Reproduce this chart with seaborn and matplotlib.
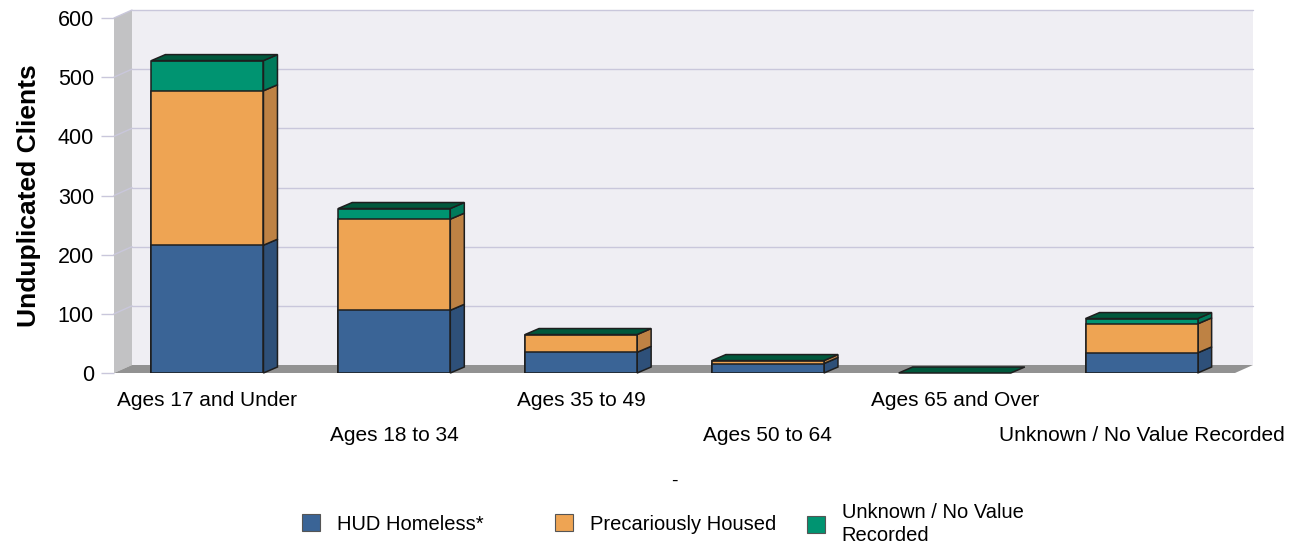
import matplotlib
matplotlib.use('Agg')
from matplotlib import pyplot as plt
from matplotlib.patches import Polygon, Patch
import seaborn as sns
import pandas as pd

# chart data
categories = ['Ages 17 and Under', 'Ages 18 to 34', 'Ages 35 to 49',
              'Ages 50 to 64', 'Ages 65 and Over', 'Unknown / No Value Recorded']
hud_homeless = [216, 106, 35, 16, 0, 34]
precariously_housed = [261, 154, 30, 5, 0, 49]
unknown_recorded = [51, 18, 0, 0, 0, 9]
series_names = ['HUD Homeless*', 'Precariously Housed', 'Unknown / No Value\nRecorded']
y_ticks = [0, 100, 200, 300, 400, 500, 600]

# colours
front_colors = ['#3a6496', '#eea453', '#009471']
side_colors = ['#2e5079', '#be8244', '#007a5b']
top_color = '#00583c'
edge = '#1e1e1e'
grid_color = '#c9c7db'

df = pd.DataFrame({'category': categories, 'hud': hud_homeless,
                   'prec': precariously_housed, 'unk': unknown_recorded})
df['lvl1'] = df.hud
df['lvl2'] = df.lvl1 + df.prec
df['lvl3'] = df.lvl2 + df.unk

sns.set_theme(style='white')
plt.rcParams['font.family'] = ['Liberation Sans', 'DejaVu Sans']
plt.rcParams['text.color'] = 'black'
plt.rcParams['axes.labelcolor'] = 'black'

fig = plt.figure(figsize=(12.95, 5.45), dpi=100)
ax = fig.add_axes([114 / 1295, 172 / 545, 1121 / 1295, 355 / 545])

# depth of the fake 3d, in data units
px_x = 1121 / 6
px_y = 355 / 600
wdx, wdy = 18 / px_x, 8 / px_y
bdx, bdy = 14 / px_x, 6 / px_y

# back wall, left wall and floor
ax.add_patch(Polygon([(-0.5 + wdx, wdy), (5.5 + wdx, wdy), (5.5 + wdx, 600 + wdy), (-0.5 + wdx, 600 + wdy)],
                     closed=True, fc='#efeef3', ec='none', clip_on=False, zorder=0))
for t in y_ticks[1:]:
    ax.plot([-0.5 + wdx, 5.5 + wdx], [t + wdy, t + wdy], color=grid_color, lw=1, clip_on=False, zorder=0.5)
ax.add_patch(Polygon([(-0.5, 0), (-0.5 + wdx, wdy), (-0.5 + wdx, 600 + wdy), (-0.5, 600)],
                     closed=True, fc='#c2c2c4', ec='none', clip_on=False, zorder=1))
for t in y_ticks[1:]:
    ax.plot([-0.5, -0.5 + wdx], [t, t + wdy], color=grid_color, lw=1, clip_on=False, zorder=1.2)
ax.add_patch(Polygon([(-0.5, 0), (5.5, 0), (5.5 + wdx, wdy), (-0.5 + wdx, wdy)],
                     closed=True, fc='#929292', ec='none', clip_on=False, zorder=1))

# front faces: stacked by drawing cumulative totals over each other
for col, c in zip(['lvl3', 'lvl2', 'lvl1'], front_colors[::-1]):
    sns.barplot(data=df, x='category', y=col, color=c, width=0.6, saturation=1,
                edgecolor=edge, linewidth=1.1, errorbar=None, ax=ax, zorder=3)

# side faces and top caps
for i, row in df.iterrows():
    x1 = i + 0.3
    levels = [0, row.lvl1, row.lvl2, row.lvl3]
    for k in range(3):
        b, t = levels[k], levels[k + 1]
        if t > b:
            ax.add_patch(Polygon([(x1, b), (x1 + bdx, b + bdy), (x1 + bdx, t + bdy), (x1, t)],
                                 closed=True, fc=side_colors[k], ec=edge, lw=1.1, zorder=2.5, clip_on=False))
    top = levels[3]
    ax.add_patch(Polygon([(x1 - 0.6, top), (x1, top), (x1 + bdx, top + bdy), (x1 - 0.6 + bdx, top + bdy)],
                         closed=True, fc=top_color, ec=edge, lw=1.1, zorder=3.5, clip_on=False))

ax.set_xlim(-0.5, 5.5)
ax.set_ylim(0, 600)
for s in ax.spines.values():
    s.set_visible(False)
ax.patch.set_visible(False)
ax.grid(False)

ax.set_yticks(y_ticks)
ax.tick_params(axis='y', left=True, length=9.5, width=1, color=grid_color, pad=5, labelsize=15.5, labelcolor='black')
ax.set_xticks(range(len(categories)))
ax.set_xticklabels(categories, fontsize=15, color='black')
ax.tick_params(axis='x', bottom=False, length=0, pad=13)
for lbl in ax.get_xticklabels()[1::2]:
    lbl.set_y(-35 / 355)

ax.set_xlabel('-', fontsize=14, color='black')
ax.xaxis.set_label_coords(0.5, -0.28)
ax.set_ylabel('Unduplicated Clients', fontsize=19, fontweight='bold', color='black')
ax.yaxis.set_label_coords(-0.065, 0.5)

# legend, one box per series
for name, c, xpos in zip(series_names, front_colors, [302, 555, 807]):
    leg = fig.legend(handles=[Patch(fc=c, ec='#555555', lw=0.8)], labels=[name],
                     loc='center left', bbox_to_anchor=(xpos / 1295, 21 / 545), frameon=False,
                     fontsize=14.5, handlelength=0.87, handleheight=0.87, handletextpad=0.85,
                     borderpad=0, borderaxespad=0)
    for txt in leg.get_texts():
        txt.set_linespacing(1.22)

fig.savefig('out.png', dpi=100)
